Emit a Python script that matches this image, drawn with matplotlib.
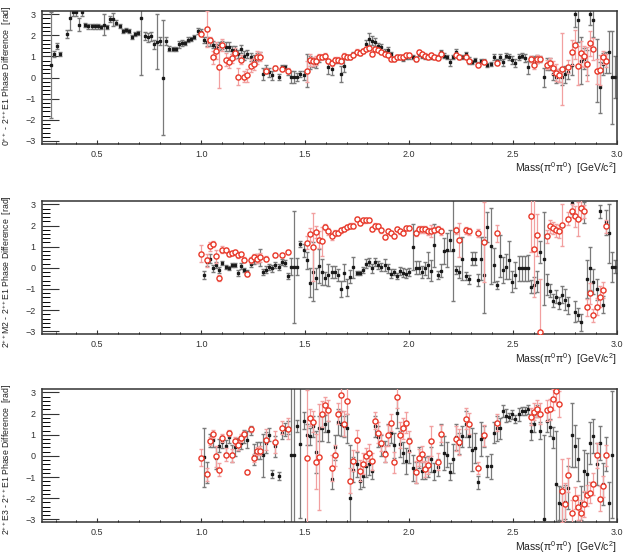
import numpy as np
import matplotlib
matplotlib.use("Agg")
import matplotlib.pyplot as plt
from matplotlib.ticker import MultipleLocator

nan = np.nan

# mass bins: 15 MeV wide, first centre at 0.2775 GeV/c^2
bin_first = 0.2775
bin_width = 0.015
hi_start = 48   # panels 2/3 and red points start at bin 48 (~1.0 GeV)

# ---- panel 1 : 0++ - 2++E1, black solution (bins 0..181)
p1_black = [0.6, 1.1, 1.5, 1.12, nan, 2.07, 2.83, 3.1, 3.1, 2.5,
            3.1, 2.47, 2.42, 2.42, 2.42, 2.42, 2.4, 2.5, 2.4, 2.78,
            2.75, 2.6, 2.45, 2.2, 2.25, 2.2, 1.93, 2.07, 2.12, 2.83,
            1.97, 1.9, 1.95, 1.57, 1.7, 1.72, 0.0, 1.72, 1.37, 1.35,
            1.35, 1.57, 1.65, 1.65, 1.8, 1.84, 1.93, 2.2, 2.15, 1.79,
            1.7, 1.67, 1.56, 1.43, 1.5, 1.55, 1.46, 1.46, 1.3, 1.3,
            1.12, 1.35, 1.04, 1.12, 0.96, 0.88, 0.96, 1.04, 0.17, 0.41,
            0.25, 0.1, 0.46, 0.02, 0.49, 0.49, 0.25, 0.02, 0.02, 0.02,
            0.17, 0.1, 0.33, 0.72, 0.72, 0.64, 0.88, 0.96, 0.99, 0.49,
            0.41, 0.8, 0.8, 0.17, 0.57, 0.99, 0.96, 1.12, 1.2, 1.15,
            1.27, 1.59, 1.82, 1.75, 1.67, 1.5, 1.43, 1.2, 1.3, 1.12,
            0.88, 0.99, 0.97, 0.88, 0.99, 1.0, 0.96, 0.88, 1.12, 1.04,
            0.99, 0.96, 0.99, 0.96, 0.96, 1.2, 1.04, 0.99, 0.72, 0.99,
            1.2, 0.96, 0.96, 1.12, 0.8, 0.72, 0.83, 0.64, 0.77, 0.8,
            0.61, 0.64, 0.96, 0.8, 0.96, 0.72, 1.04, 0.96, 0.83, 0.68,
            0.96, 1.04, 0.93, 0.49, 0.88, 0.8, 0.88, 0.88, 0.02, 0.64,
            0.64, 0.17, 0.02, 0.1, 0.05, 0.15, 0.25, 0.6, 3.0, 2.7,
            0.8, 0.9, 0.7, 3.0, 2.7, 0.33, -0.46, 0.64, 0.72, 1.2,
            0.02, 0.02]
p1_black_err = [2.5, .15, .15, .1, 0, .2, .6, .2, .2, .3,
                .2, .1, .1, .1, .1, .1, .1, .5, .1, .15,
                .3, .1, .1, .1, .1, .1, .1, .1, .1, 2.7,
                .2, .2, .2, .2, 1.3, .2, 2.7, .2, .1, .1,
                .1, .15, .15, .1, .1, .1, .1, .15, .15, .15,
                .2, .2, .15, .15, .2, .2, .2, .2, .2, .2,
                .2, .2, .2, .2, .2, .2, .2, .15, .3, .2,
                .2, .2, .1, .15, .1, .1, .15, .3, .3, .2,
                .15, .2, .8, .3, .2, .2, .15, .1, .1, .3,
                .3, .1, .1, .4, .3, .1, .1, .1, .1, .1,
                .1, .2, .3, .2, .2, .15, .15, .15, .15, .1,
                .1, .1, .1, .1, .1, .1, .1, .1, .1, .1,
                .1, .1, .1, .1, .1, .1, .1, .1, .15, .1,
                .15, .1, .1, .1, .15, .1, .1, .1, .1, .1,
                .1, .1, .15, .1, .15, .15, .1, .15, .2, .2,
                .15, .1, .2, .3, .15, .2, .2, .15, .45, .3,
                .3, .3, .3, .3, .4, .4, .3, .5, .6, 1.0,
                1.1, .5, .6, .5, .8, 1.5, 1.2, .5, .5, 1.0,
                2.2, 1.0]

# ---- panel 1, red solution (bins 48..181)
p1_red = [2.06, nan, 2.3, 1.78, 0.96, 1.27, 0.49, 1.54, 0.85, 0.72,
          0.91, 1.15, 0.05, 0.85, 0.05, 0.1, 0.57, 0.64, 0.96, 0.99,
          nan, 0.33, nan, nan, 0.46, nan, 0.41, nan, 0.33, nan,
          nan, nan, nan, nan, 0.3, 0.83, 0.77, 0.8, 0.96, 0.99,
          1.04, 0.8, 0.68, 0.85, 0.85, 0.8, 1.04, 0.96, 0.96, 1.07,
          1.23, 1.15, 1.27, 1.35, 1.4, 1.12, 1.35, 1.3, 1.2, 1.12,
          1.07, 0.88, 0.88, 0.96, 0.99, 0.96, 1.05, 1.07, nan, 0.88,
          1.2, 1.12, 1.04, 0.96, 1.07, 0.96, 0.91, 1.12, nan, nan,
          nan, nan, 1.07, 0.96, nan, 0.99, 0.8, nan, nan, 0.61,
          nan, 0.72, nan, nan, nan, 0.68, nan, nan, nan, nan,
          nan, nan, nan, nan, nan, nan, 0.88, 0.61, 0.88, 0.88,
          nan, 0.61, 0.68, 0.46, 0.22, 0.1, 0.41, nan, 0.52, 1.2,
          1.56, 0.57, 1.15, 1.0, 0.64, 1.62, 1.35, 0.3, 0.36, 0.96,
          0.8, nan, nan, nan]
p1_red_err = [.1, 0, .85, .15, .3, .4, 1.0, .3, .3, .25,
              .2, .25, .4, .2, .25, .3, .3, .3, .3, .2,
              0, .1, 0, 0, .1, 0, .1, 0, .1, 0,
              0, 0, 0, 0, .5, .3, .2, .2, .15, .1,
              .1, .1, .15, .1, .1, .1, .1, .1, .1, .1,
              .1, .1, .1, .1, .1, .1, .1, .1, .1, .1,
              .1, .1, .1, .1, .1, .1, .1, .1, 0, .1,
              .1, .1, .1, .1, .1, .1, .1, .1, 0, 0,
              0, 0, .1, .1, 0, .1, .1, 0, 0, .1,
              0, .1, 0, 0, 0, .1, 0, 0, 0, 0,
              0, 0, 0, 0, 0, 0, .15, .2, .2, .15,
              0, .2, .25, .3, .4, .3, 1.7, 0, .3, .6,
              .7, .9, .6, .5, .8, .6, .5, .6, .7, .3,
              .3, 0, 0, 0]

# ---- panel 2 : 2++M2 - 2++E1 (bins 48..181)
p2_black = [nan, -0.33, 0.28, 0.44, -0.03, 0.13, -0.11, 0.23, 0.05, 0.0,
            0.13, 0.13, -0.23, 0.08, -0.11, -0.19, 0.2, 0.36, 0.44, 0.47,
            -0.19, -0.08, 0.05, -0.03, 0.13, 0.05, 0.28, 0.23, -0.38, 0.05,
            0.05, 0.05, 1.14, 0.83, 0.36, -0.7, -0.19, -0.5, 0.1, -0.19,
            -0.5, -0.34, -0.19, -0.19, -0.34, -1.0, -0.23, -0.92, -0.42, 0.02,
            -0.23, -0.23, -0.11, 0.2, 0.28, -0.03, 0.28, 0.13, 0.05, 0.13,
            -0.03, -0.27, -0.19, -0.39, -0.14, -0.23, -0.27, -0.19, 0.99, 0.0,
            0.0, -0.19, -0.03, 0.13, -0.14, 1.06, -0.34, -0.14, 0.8, 0.86,
            1.3, 0.83, -0.11, -0.19, 0.44, -0.39, -0.55, 0.44, 0.44, -0.58,
            0.44, -0.34, 1.92, 1.02, 0.13, -0.81, 0.55, -0.11, 0.05, 0.36,
            -0.66, -0.34, -0.03, -0.03, -0.03, 0.0, -0.89, -0.81, -0.66, 0.75,
            0.44, -0.77, -1.08, -1.55, -1.36, -1.67, -1.28, -1.5, -1.78, 3.05,
            -2.07, -2.22, -2.58, 2.63, -0.55, -0.03, -0.66, -1.02, 2.68, -1.75,
            2.16, 1.64, 0.05, 0.05]
p2_black_err = [0, .2, .2, .2, .15, .15, .15, .1, .1, .1,
                .1, .1, .15, .15, .1, .1, .15, .2, .2, .4,
                .15, .15, .15, .15, .15, .15, .15, .15, .15, .4,
                2.65, .4, .15, .3, .4, .7, 1.4, .5, .8, .6,
                .3, .5, .3, .3, .3, .4, .4, .4, .3, .5,
                .1, .1, .15, .2, .2, .2, .2, .2, .2, .3,
                .2, .2, .15, .15, .2, .2, .2, .2, 1.1, .3,
                .3, .3, .3, .6, .5, 1.0, .2, .3, .6, .8,
                .5, 2.4, .2, .3, 1.0, .2, .2, .3, .3, .3,
                1.0, 1.8, .7, 1.8, .8, .2, 1.0, .6, .6, .9,
                .5, .6, .6, .6, .6, .6, .3, .4, .5, .5,
                2.2, .5, .3, .3, .3, .3, .4, .5, .4, .5,
                .5, .3, .4, .5, .9, 1.0, .6, .5, .3, .4,
                .6, 1.4, .7, .3]
p2_red = [0.67, nan, 0.36, 1.02, 1.14, 0.55, -0.47, 0.86, 0.86, 0.64,
          0.7, 0.75, 0.6, 0.64, 0.39, -0.3, 0.36, 0.52, 0.44, 0.49,
          nan, 0.44, nan, nan, 0.6, nan, 0.6, nan, 0.75, nan,
          nan, nan, nan, nan, 1.19, 1.58, 0.99, 1.69, 1.33, 1.25,
          1.92, 1.72, 1.49, 1.64, 1.64, 1.77, 1.85, 1.92, 2.0, 2.0,
          2.32, 2.11, 2.24, 2.24, 2.27, 1.85, 2.0, 1.96, 1.77, 1.46,
          1.72, 1.64, 1.49, 1.82, 1.72, 1.64, 1.9, 1.89, nan, 1.64,
          1.82, 1.82, 1.82, 1.72, 1.74, 1.8, 1.85, 1.72, nan, nan,
          nan, nan, 1.77, 1.3, nan, 1.77, 1.72, nan, nan, 1.66,
          nan, 1.22, nan, nan, nan, 1.64, nan, nan, nan, nan,
          nan, nan, nan, nan, nan, nan, 2.44, 0.91, 1.56, -3.05,
          nan, 1.49, 1.96, 1.89, 1.77, 1.72, 2.03, nan, 2.32, 2.71,
          2.44, 2.32, 2.83, 2.68, -1.86, -1.2, -2.25, -1.83, -1.36, -1.05,
          1.96, nan, nan, nan]
p2_red_err = [.4, 0, .3, .2, .15, .3, .15, .15, .1, .1,
              .1, .1, .15, .1, .1, .1, .15, .15, .2, .2,
              0, .1, 0, 0, .1, 0, .1, 0, .1, 0,
              0, 0, 0, 0, .3, .3, 1.6, .3, .4, .7,
              .15, .15, .15, .15, .1, .1, .1, .1, .1, .1,
              .1, .1, .1, .1, .1, .1, .1, .1, .1, .1,
              .1, .1, .1, .1, .1, .1, .1, .1, 0, .15,
              .15, .15, .15, .15, .3, .15, .15, .15, 0, 0,
              0, 0, .15, .8, 0, .15, .15, 0, 0, .2,
              0, 1.9, 0, 0, 0, .4, 0, 0, 0, 0,
              0, 0, 0, 0, 0, 0, 1.7, 2.3, 1.0, 2.5,
              0, .3, .3, .3, .3, .3, 1.0, 0, .3, .3,
              .5, .8, .5, .3, .4, .5, .3, .4, .5, .4,
              .3, 0, 0, 0]

# ---- panel 3 : 2++E3 - 2++E1 (bins 48..181)
p3_black = [nan, -0.06, -0.8, 0.73, 0.73, -0.1, 0.49, 0.66, 0.46, 0.9,
            0.11, 0.41, 0.54, 0.62, 0.93, 0.77, 1.2, 0.06, 0.25, 0.25,
            0.02, 0.62, 1.01, -0.85, 0.46, -0.96, 1.09, 1.25, 1.33, 0.06,
            0.06, 1.41, 0.54, 1.67, 1.0, 0.93, 1.41, 0.2, 1.3, 1.3,
            1.52, 1.17, -1.07, 0.4, 1.6, 1.52, 1.41, 1.3, -1.99, -0.65,
            -0.4, -1.17, -0.96, -0.5, -0.4, -0.7, 1.4, 0.9, 0.5, 0.2,
            1.0, 1.1, 0.5, 2.04, 0.57, 0.14, -0.25, 0.25, -0.57, -0.8,
            -0.06, -0.7, -0.57, -0.49, -0.17, -0.73, -0.54, 1.0, 0.14, 0.06,
            -0.76, -0.13, 0.9, 0.57, 0.93, 1.5, 0.93, 0.3, 0.38, -1.25,
            0.8, 0.9, -0.49, -0.49, 1.1, 1.3, 1.3, 2.12, 1.91, 1.83,
            1.96, 1.75, 1.96, 2.12, 2.12, 2.2, 1.17, 1.52, 2.12, 1.2,
            -3.0, 1.64, 1.36, 0.85, -1.33, -2.23, -2.27, -2.2, -1.5, 0.98,
            0.46, -0.17, -2.23, -0.7, -0.85, 0.62, 0.93, -0.38, 0.62, -1.33,
            0.09, -2.23, 0.06, nan]
p3_black_err = [0, 1.4, .5, .3, .3, .5, .3, .3, .3, .3,
                .4, .4, .3, .3, .3, .4, .2, .5, .4, .4,
                1.0, .5, .3, .2, .5, .2, .3, .3, .3, 3.5,
                3.5, .3, 3.5, .4, .5, .4, .5, 1.0, .6, .6,
                .4, .5, .5, .6, .6, .6, .5, .7, 2.5, .6,
                .6, .4, .5, .5, .5, .4, .5, .5, .5, .5,
                .5, .5, .6, .7, .6, .5, .6, .6, .6, .5,
                .5, .4, .5, .5, .6, .4, .4, .5, .8, .6,
                .4, .7, .6, .5, .5, .6, .5, 1.0, .7, .3,
                .8, .5, .5, .6, .5, .6, .5, .3, .3, .2,
                .2, .2, .3, .2, .2, .2, .4, .4, .3, .4,
                4.0, .5, .4, .5, 2.5, .8, .8, .8, 1.0, 1.5,
                1.0, 1.0, .8, 1.0, 1.0, 1.0, .8, 1.0, .8, 1.0,
                .8, 1.0, 3.0, 0]
p3_red = [-0.09, nan, -0.88, 0.7, 1.04, -0.02, -0.65, 0.85, 0.06, 1.09,
          0.03, 0.7, 0.5, 0.85, 1.04, -0.77, 1.25, -0.09, 0.22, 0.25,
          nan, 0.77, nan, nan, 0.66, nan, 1.33, nan, 1.28, nan,
          nan, nan, nan, nan, -0.09, 1.8, 1.61, -0.28, -0.06, 1.99,
          2.4, 2.15, -0.57, 0.03, 1.99, 2.88, 1.52, 2.59, -1.17, -0.22,
          0.73, -0.7, -0.38, -0.02, 0.14, -0.25, 1.67, 1.09, 0.62, 0.09,
          0.98, 1.56, -0.3, 2.78, 0.98, 1.3, 1.56, 0.7, nan, -0.76,
          -0.09, 0.09, -0.62, -0.44, 0.7, nan, -0.28, 1.04, nan, nan,
          nan, nan, 0.82, 0.66, nan, 1.75, 1.52, nan, nan, -0.57,
          nan, 0.98, nan, nan, nan, 1.56, nan, nan, nan, nan,
          nan, nan, nan, nan, nan, nan, 1.85, 2.09, 2.24, 1.99,
          nan, 2.16, 2.2, 2.67, 3.06, 2.46, -1.64, -2.27, -0.92, -2.7,
          -1.99, -2.43, -2.7, -2.27, -1.86, -1.75, -1.33, 0.02, -2.02, -1.44,
          0.02, nan, nan, nan]
p3_red_err = [.4, 0, .3, .2, .2, .5, .3, .2, .3, .15,
              .3, .2, .2, .2, .15, .1, .1, .2, .2, .2,
              0, .5, 0, 0, .5, 0, .3, 0, .5, 0,
              0, 0, 0, 0, 3.2, .4, .5, 1.3, 2.5, .6,
              .4, .5, .6, .5, .5, .8, .6, .6, .6, .5,
              .5, .5, .5, .4, .4, .4, .4, .5, .4, .4,
              .5, .4, .5, .5, .6, .5, .5, .5, 0, .5,
              .4, .4, .4, .4, .7, 0, .4, .4, 0, 0,
              0, 0, .6, .6, 0, .5, .5, 0, 0, .3,
              0, .5, 0, 0, 0, .4, 0, 0, 0, 0,
              0, 0, 0, 0, 0, 0, .4, .4, .4, .5,
              0, .5, .5, .5, .5, .6, 1.5, 1.0, .8, .6,
              .5, .6, .6, .6, .5, .5, .5, .6, .6, .5,
              .5, 0, 0, 0]

ylabels = ["0$^{++}$ - 2$^{++}$E1 Phase Difference  [rad]",
           "2$^{++}$M2 - 2$^{++}$E1 Phase Difference  [rad]",
           "2$^{++}$E3 - 2$^{++}$E1 Phase Difference  [rad]"]
xlabel = "Mass($\\pi^0\\pi^0$)  [GeV/c$^2$]"

plt.rcParams['font.family'] = ['Liberation Sans', 'DejaVu Sans']
plt.rcParams['mathtext.fontset'] = 'custom'
plt.rcParams['mathtext.rm'] = 'Liberation Sans'
plt.rcParams['mathtext.it'] = 'Liberation Sans'


def masses(start, n):
    return bin_first + bin_width * (start + np.arange(n))


def draw(ax, y, err, start, red):
    y = np.asarray(y, dtype=float)
    err = np.asarray(err, dtype=float)
    x = masses(start, len(y))
    ok = ~np.isnan(y)
    if red:
        ax.errorbar(x[ok], y[ok], yerr=err[ok], fmt='o', ms=3.7, mfc='white',
                    mec='#e8392a', mew=1.0, ecolor='#f2a0a0', elinewidth=0.9,
                    capsize=1.2, zorder=3)
    else:
        ax.errorbar(x[ok], y[ok], yerr=err[ok], fmt='s', ms=1.7, color='#1a1a1a',
                    ecolor='#7a7a7a', elinewidth=0.9, capsize=1.2, zorder=2)


fig = plt.figure(figsize=(6.3, 5.58), dpi=100)
panels = [(p1_black, p1_black_err, 0, p1_red, p1_red_err, 0.742),
          (p2_black, p2_black_err, hi_start, p2_red, p2_red_err, 0.401),
          (p3_black, p3_black_err, hi_start, p3_red, p3_red_err, 0.064)]

for i, (bk, bke, bstart, rd, rde, bottom) in enumerate(panels):
    ax = fig.add_axes([0.067, bottom, 0.912, 0.238])
    draw(ax, bk, bke, bstart, False)
    draw(ax, rd, rde, hi_start, True)
    ax.set_xlim(0.235, 3.0)
    ax.set_ylim(-np.pi, np.pi)
    ax.xaxis.set_major_locator(MultipleLocator(0.5))
    ax.xaxis.set_minor_locator(MultipleLocator(0.1))
    ax.yaxis.set_major_locator(MultipleLocator(1))
    ax.yaxis.set_minor_locator(MultipleLocator(0.2))
    ax.xaxis.set_major_formatter(plt.FormatStrFormatter('%.1f'))
    ax.tick_params(axis='x', which='major', direction='in', length=3, width=0.8,
                   labelsize=6.5, pad=4, colors='#333333')
    ax.tick_params(axis='x', which='minor', direction='in', length=1.8, width=0.7)
    ax.tick_params(axis='y', which='major', direction='in', length=12, width=0.8,
                   labelsize=6.5, pad=5, colors='#333333')
    ax.tick_params(axis='y', which='minor', direction='in', length=6, width=0.7)
    for s in ax.spines.values():
        s.set_linewidth(1.1)
        s.set_color('#333333')
    ax.set_xlabel(xlabel, fontsize=7.5, loc='right', labelpad=1.5, color='#222222')
    ax.set_ylabel(ylabels[i], fontsize=6.3, color='#222222')
    ax.yaxis.set_label_coords(-0.061, 1.045)
    ax.yaxis.label.set_va('center')
    ax.yaxis.label.set_ha('right')

fig.savefig("out.png", dpi=100)
